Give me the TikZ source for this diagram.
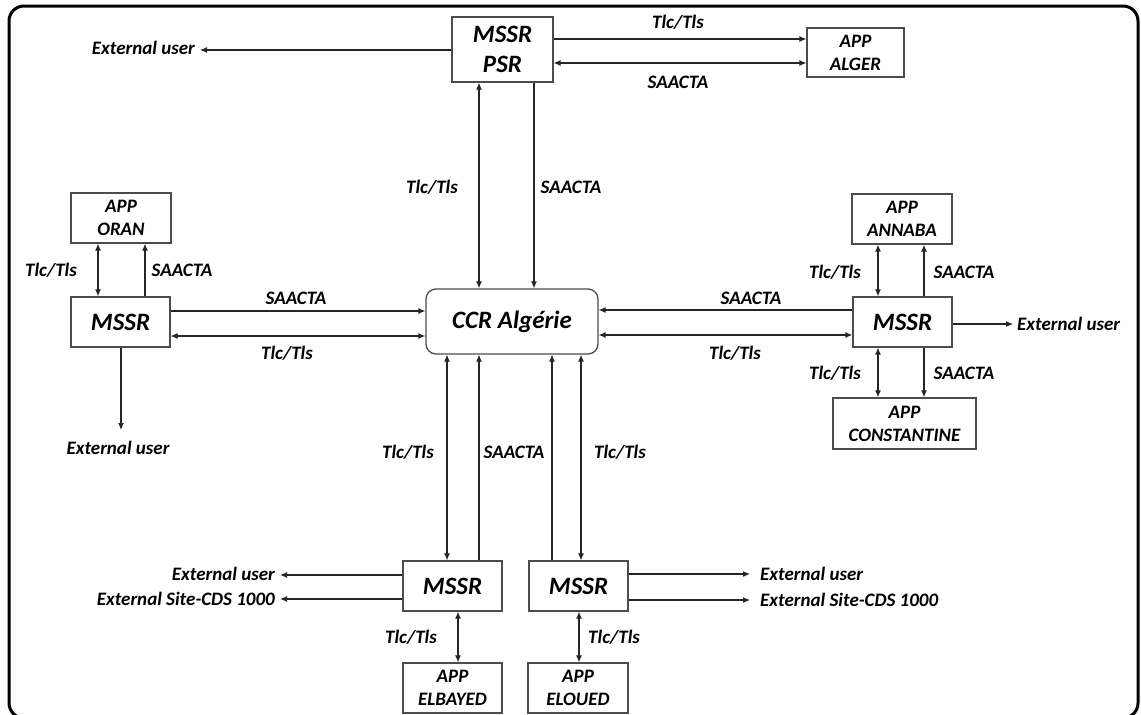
\documentclass[tikz,border=0pt]{standalone}
\usepackage{fontspec}
\setmainfont{Carlito}
\usetikzlibrary{arrows.meta}
\begin{document}
\begin{tikzpicture}[x=1pt,y=-1pt,
 box/.style={draw=black!70, line width=1.3pt, fill=white, inner sep=0pt, align=center, minimum width=99pt, minimum height=50pt, font=\fontsize{19}{23}\selectfont\bfseries\itshape},
 bigbox/.style={box, font=\fontsize{25}{30}\selectfont\bfseries\itshape},
 lbl/.style={inner sep=0pt, font=\fontsize{19}{22}\selectfont\bfseries\itshape},
 con/.style={draw=black!85, line width=1.1pt, -{Latex[length=7pt,width=6pt]}},
 bi/.style={draw=black!85, line width=1.1pt, {Latex[length=7pt,width=6pt]}-{Latex[length=7pt,width=6pt]}},
]
\useasboundingbox (0,0) rectangle (1141,715);
\draw[line width=3pt, rounded corners=15pt] (9,6) rectangle (1138,718);

% nodes
\node[bigbox, minimum width=101pt, minimum height=65pt] (psr) at (502.5,49.5) {MSSR\\PSR};
\node[box, minimum width=97pt, minimum height=49pt] (alger) at (855.5,52.5) {APP\\ALGER};
\node[box, minimum width=100pt] (oran) at (121,218) {APP\\ORAN};
\node[bigbox] (mw) at (120.5,322) {MSSR};
\node[bigbox, rounded corners=10pt, minimum width=172pt, minimum height=65pt] (ccr) at (512,321.5) {CCR Algérie};
\node[box, minimum width=100pt] (annaba) at (902,219) {APP\\ANNABA};
\node[bigbox] (me) at (902.5,322) {MSSR};
\node[box, minimum width=143pt, minimum height=51pt] (cons) at (904.5,423.5) {APP\\CONSTANTINE};
\node[bigbox] (msw) at (452.5,586) {MSSR};
\node[box] (elb) at (452.5,688) {APP\\ELBAYED};
\node[bigbox] (mse) at (578.5,586) {MSSR};
\node[box, minimum width=100pt] (elo) at (578,688) {APP\\ELOUED};

% helper coordinates
\coordinate (h39) at (0,39);
\coordinate (h63) at (0,63);
\coordinate (h311) at (0,311);
\coordinate (h336) at (0,336);
\coordinate (h310) at (0,310);
\coordinate (h335) at (0,335);
\coordinate (v479) at (479,0);
\coordinate (v534) at (534,0);
\coordinate (v98) at (98,0);
\coordinate (v145) at (145,0);
\coordinate (v878) at (878,0);
\coordinate (v924) at (924,0);
\coordinate (v447) at (447,0);
\coordinate (v552) at (552,0);
\coordinate (v581) at (581,0);
\coordinate (v458) at (458,0);
\coordinate (v579) at (579,0);
\coordinate (e1) at (200,50);
\coordinate (e2) at (121,430);
\coordinate (e3) at (1013,324);
\coordinate (e4) at (280,575);
\coordinate (e5) at (280,599);
\coordinate (e6) at (750,574);
\coordinate (e7) at (750,600);

% top
\draw[con] (psr.east |- h39) -- (alger.west |- h39);
\draw[bi] (psr.east |- h63) -- (alger.west |- h63);
\node[lbl] (l1) at (678,22) {Tlc/Tls};
\node[lbl] (l2) at (678,82) {SAACTA};
\draw[con] (psr.west |- e1) -- (e1);
\node[lbl, anchor=east] (eu1) at (195,48) {External user};
\draw[bi] (psr.south -| v479) -- (ccr.north -| v479);
\draw[con] (psr.south -| v534) -- (ccr.north -| v534);
\node[lbl] (l3) at (432,187) {Tlc/Tls};
\node[lbl] (l4) at (571,187) {SAACTA};

% west
\draw[bi] (mw.north -| v98) -- (oran.south -| v98);
\draw[con] (mw.north -| v145) -- (oran.south -| v145);
\node[lbl] (l5) at (51,270) {Tlc/Tls};
\node[lbl] (l6) at (182,270) {SAACTA};
\draw[con] (mw.east |- h311) -- (ccr.west |- h311);
\draw[bi] (mw.east |- h336) -- (ccr.west |- h336);
\node[lbl] (l7) at (296,298) {SAACTA};
\node[lbl] (l8) at (287,353) {Tlc/Tls};
\draw[con] (mw.south -| e2) -- (e2);
\node[lbl] (eu2) at (118,448) {External user};

% east
\draw[con] (me.west |- h310) -- (ccr.east |- h310);
\draw[bi] (me.west |- h335) -- (ccr.east |- h335);
\node[lbl] (l9) at (751,298) {SAACTA};
\node[lbl] (l10) at (735,353) {Tlc/Tls};
\draw[bi] (me.north -| v878) -- (annaba.south -| v878);
\draw[con] (me.north -| v924) -- (annaba.south -| v924);
\node[lbl] (l11) at (835,272) {Tlc/Tls};
\node[lbl] (l12) at (964,272) {SAACTA};
\draw[bi] (me.south -| v878) -- (cons.north -| v878);
\draw[con] (me.south -| v924) -- (cons.north -| v924);
\node[lbl] (l13) at (835,373) {Tlc/Tls};
\node[lbl] (l14) at (964,373) {SAACTA};
\draw[con] (me.east |- e3) -- (e3);
\node[lbl, anchor=west] (eu3) at (1017,324) {External user};

% bottom
\draw[bi] (ccr.south -| v447) -- (msw.north -| v447);
\draw[con] (msw.north -| v479) -- (ccr.south -| v479);
\draw[con] (mse.north -| v552) -- (ccr.south -| v552);
\draw[bi] (ccr.south -| v581) -- (mse.north -| v581);
\node[lbl] (l15) at (408,452) {Tlc/Tls};
\node[lbl] (l16) at (514,452) {SAACTA};
\node[lbl] (l17) at (620,452) {Tlc/Tls};

\draw[con] (msw.west |- e4) -- (e4);
\draw[con] (msw.west |- e5) -- (e5);
\node[lbl, anchor=east] (eu4) at (275,574) {External user};
\node[lbl, anchor=east] (es1) at (275,599) {External Site-CDS 1000};
\draw[bi] (msw.south -| v458) -- (elb.north -| v458);
\node[lbl] (l18) at (411,637) {Tlc/Tls};

\draw[con] (mse.east |- e6) -- (e6);
\draw[con] (mse.east |- e7) -- (e7);
\node[lbl, anchor=west] (eu5) at (760,574) {External user};
\node[lbl, anchor=west] (es2) at (760,600) {External Site-CDS 1000};
\draw[bi] (mse.south -| v579) -- (elo.north -| v579);
\node[lbl, anchor=west] (l19) at (588,637) {Tlc/Tls};
\end{tikzpicture}
\end{document}
